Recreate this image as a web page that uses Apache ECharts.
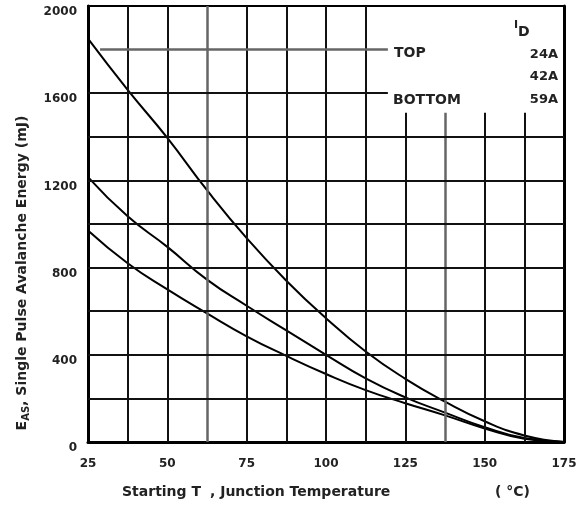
<!DOCTYPE html>
<html>
<head>
<meta charset="utf-8">
<script src="https://cdn.jsdelivr.net/npm/echarts@6/dist/echarts.min.js"></script>
<style>html,body{margin:0;padding:0;background:#fff;}#c{width:580px;height:506px;}</style>
</head>
<body>
<div id="c"></div>
<script>
// ---- data ----
const temps   = [25, 37.5, 50, 62.5, 75, 87.5, 100, 112.5, 125, 137.5, 150, 162.5, 175];
const eas24A  = [1850, 1615, 1395, 1155, 935, 740, 568, 415, 290, 185, 95, 30, 0];
const eas42A  = [1215, 1035, 895, 745, 625, 512, 400, 292, 205, 135, 68, 18, 0];
const eas59A  = [970, 820, 700, 590, 485, 395, 312, 238, 178, 122, 62, 15, 0];
const xTickLabels = ['25', '50', '75', '100', '125', '150', '175'];
const yTickLabels = ['0', '400', '800', '1200', '1600', '2000'];
const legendNames = ['24A', '42A', '59A'];
// grid lines (data coordinates)
const vGridFull  = [37.5, 50, 62.5, 75, 87.5, 100, 112.5];
const vGridShort = [125, 137.5, 150, 162.5];
const vShortTop  = 1510;
const hGridFull  = [200, 400, 600, 800, 1000, 1200, 1400];
const hLeaders   = [[1800, 28.8], [1600, 25]];
const leaderEnd  = 119.5;

const chart = echarts.init(document.getElementById('c'), null, {renderer: 'canvas'});
const FONT = "'DejaVu Sans', sans-serif";
const dark = {color: '#111', width: 2, type: 'solid'};
const soft = {color: '#666', width: 2.5, type: 'solid'};
const softSet = [62.5, 137.5, 1800];

const ml = [];
vGridFull.forEach(v => ml.push([{coord: [v, 0], lineStyle: softSet.includes(v) ? soft : dark}, {coord: [v, 2000]}]));
vGridShort.forEach(v => ml.push([{coord: [v, 0], lineStyle: softSet.includes(v) ? soft : dark}, {coord: [v, vShortTop]}]));
hGridFull.forEach(v => ml.push([{coord: [25, v], lineStyle: dark}, {coord: [175, v]}]));
hLeaders.forEach(([v, s]) => ml.push([{coord: [s, v], lineStyle: softSet.includes(v) ? soft : dark}, {coord: [leaderEnd, v]}]));

function pairs(ys) { return temps.map((t, i) => [t, ys[i]]); }
const curveStyle = {color: '#000', width: 2};
const txt = (text, x, y, size, align) => ({type: 'text', x, y, z: 10,
  style: {text, font: "bold " + size + "px 'DejaVu Sans'", fill: '#222', align: align || 'left', verticalAlign: 'middle'}});

chart.setOption({
  animation: false,
  backgroundColor: '#fff',
  grid: {left: 88, right: 16, top: 6, bottom: 64, show: true, borderColor: '#000', borderWidth: 2, backgroundColor: 'transparent'},
  xAxis: {
    type: 'value', min: 25, max: 175, interval: 25,
    axisLine: {show: true, lineStyle: {color: '#000', width: 3}},
    axisTick: {show: false},
    splitLine: {show: false},
    axisLabel: {fontFamily: FONT, fontSize: 12, fontWeight: 'bold', color: '#222', margin: 16,
      formatter: v => xTickLabels[Math.round((v - 25) / 25)] || ''}
  },
  yAxis: [{
    type: 'value', min: 0, max: 2000, interval: 400,
    axisLine: {show: true, lineStyle: {color: '#000', width: 3}},
    axisTick: {show: false},
    splitLine: {show: false},
    axisLabel: {fontFamily: FONT, fontSize: 12, fontWeight: 'bold', color: '#222', margin: 11, verticalAlign: 'top',
      formatter: v => yTickLabels[Math.round(v / 400)] || ''}
  }, {
    type: 'value', min: 0, max: 2000, interval: 400, position: 'right',
    axisLine: {show: true, lineStyle: {color: '#000', width: 3}},
    axisTick: {show: false}, splitLine: {show: false}, axisLabel: {show: false}
  }],
  series: [
    {type: 'line', data: [], z: 1, silent: true,
     markLine: {silent: true, symbol: ['none', 'none'], label: {show: false}, animation: false, data: ml}},
    {type: 'line', name: legendNames[0], data: pairs(eas24A), smooth: true, symbol: 'none', lineStyle: curveStyle, z: 3},
    {type: 'line', name: legendNames[1], data: pairs(eas42A), smooth: true, symbol: 'none', lineStyle: curveStyle, z: 3},
    {type: 'line', name: legendNames[2], data: pairs(eas59A), smooth: true, symbol: 'none', lineStyle: curveStyle, z: 3}
  ],
  graphic: [
    {type: 'text', x: 22, y: 273, rotation: Math.PI / 2, z: 10,
     style: {text: '{m|E}{s|AS}{m|, Single Pulse Avalanche Energy (mJ)}', align: 'center', verticalAlign: 'middle',
       rich: {m: {fontFamily: FONT, fontSize: 14, fontWeight: 'bold', fill: '#222'},
              s: {fontFamily: FONT, fontSize: 10, fontWeight: 'bold', fill: '#222', padding: [8, 0, 0, 0]}}}},
    txt('Starting T', 122, 492, 14),
    txt(', Junction Temperature', 210, 492, 14),
    txt('( °C)', 495, 492, 14),
    {type: 'text', x: 514, y: 28, z: 10,
     style: {text: '{m|I}{s|D}', align: 'left', verticalAlign: 'middle',
       rich: {m: {fontFamily: FONT, fontSize: 11, fontWeight: 'bold', fill: '#222', padding: [0, 0, 6, 0]},
              s: {fontFamily: FONT, fontSize: 14, fontWeight: 'bold', fill: '#222', padding: [8, 0, 0, 0]}}}},
    txt('TOP', 394, 53, 14),
    txt('BOTTOM', 393, 100, 14),
    txt(legendNames[0], 558, 55, 13, 'right'),
    txt(legendNames[1], 558, 77, 13, 'right'),
    txt(legendNames[2], 558, 100, 13, 'right')
  ]
});
</script>
</body>
</html>
